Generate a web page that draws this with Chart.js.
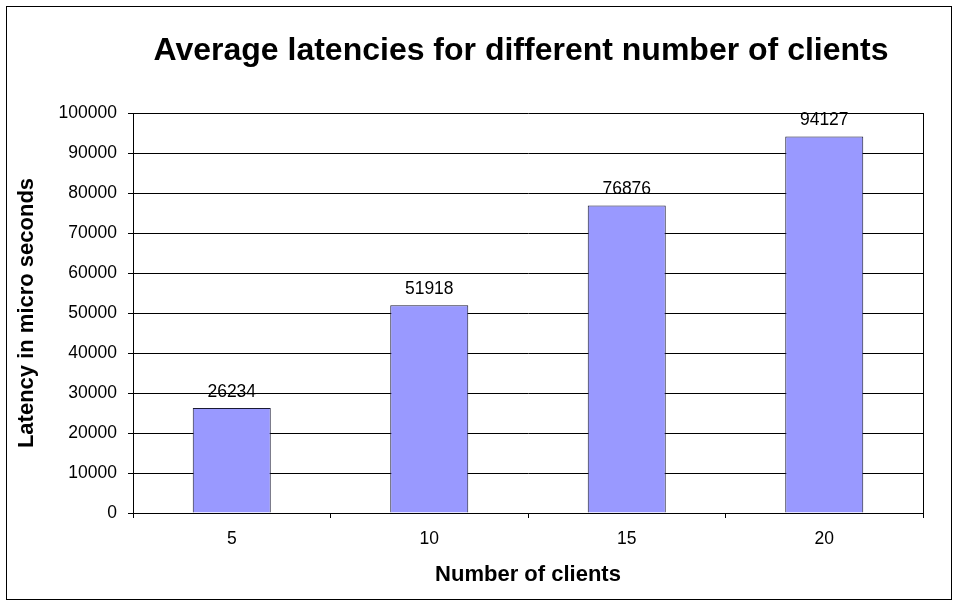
<!DOCTYPE html>
<html>
<head>
<meta charset="utf-8">
<script src="https://cdn.jsdelivr.net/npm/chart.js@4/dist/chart.umd.min.js"></script>
<style>
  body { margin: 0; background: #fff; }
  canvas { display: block; }
</style>
</head>
<body>
<canvas id="latency-chart" width="959" height="606"></canvas>
<script>
const clients = ['5', '10', '15', '20'];
const latencies = [26234, 51918, 76876, 94127];
const chartTitle = 'Average latencies for different number of clients';
const xTitle = 'Number of clients';
const yTitle = 'Latency in micro seconds';

const FONT = "Arial, 'Liberation Sans', sans-serif";

// outer frame + right edge of the plot area
const framePlugin = {
  id: 'frame',
  afterLayout(chart) {
    // title sits a little left of the plot centre in the original
    if (chart.titleBlock) {
      chart.titleBlock.left -= 7;
      chart.titleBlock.right -= 7;
    }
  },
  afterDraw(chart) {
    const ctx = chart.ctx;
    const a = chart.chartArea;
    ctx.save();
    ctx.strokeStyle = '#000';
    ctx.lineWidth = 1;
    ctx.strokeRect(6.5, 6.5, 945, 593);
    ctx.beginPath();
    ctx.moveTo(Math.round(a.right) + 0.5, a.top);
    ctx.lineTo(Math.round(a.right) + 0.5, a.bottom);
    ctx.stroke();
    ctx.restore();
  }
};

// numbers above each bar
const valueLabels = {
  id: 'valueLabels',
  afterDatasetsDraw(chart) {
    const ctx = chart.ctx;
    const meta = chart.getDatasetMeta(0);
    ctx.save();
    ctx.font = '17.5px ' + FONT;
    ctx.fillStyle = '#000';
    ctx.textAlign = 'center';
    ctx.textBaseline = 'alphabetic';
    meta.data.forEach((bar, i) => {
      ctx.fillText(String(chart.data.datasets[0].data[i]), bar.x, bar.y - 11);
    });
    ctx.restore();
  }
};

new Chart(document.getElementById('latency-chart'), {
  type: 'bar',
  data: {
    labels: clients,
    datasets: [{
      label: 'Latency',
      data: latencies,
      backgroundColor: '#9999ff',
      borderColor: '#1a1a33',
      borderWidth: 1,
      barPercentage: 0.79,
      categoryPercentage: 0.5,
    }],
  },
  options: {
    responsive: false,
    animation: false,
    layout: {
      padding: { left: 13, right: 36, top: 0, bottom: 13 },
    },
    plugins: {
      legend: { display: false },
      tooltip: { enabled: false },
      title: {
        display: true,
        fullSize: false,
        text: chartTitle,
        color: '#000',
        font: { family: FONT, size: 32, weight: 'bold' },
        padding: { top: 32, bottom: 42.6 },
      },
    },
    scales: {
      x: {
        afterFit(scale) { scale.height = 80; },
        grid: {
          offset: true,
          drawOnChartArea: false,
          drawTicks: true,
          tickLength: 5,
          color: '#000',
        },
        border: { color: '#000', width: 1 },
        ticks: {
          color: '#000',
          padding: 11,
          font: { family: FONT, size: 17.5 },
        },
        title: {
          display: true,
          text: xTitle,
          color: '#000',
          font: { family: FONT, size: 22, weight: 'bold' },
          padding: { top: 4, bottom: 5 },
        },
      },
      y: {
        min: 0,
        max: 100000,
        afterFit(scale) { scale.width = 120; },
        grid: {
          color: '#000',
          lineWidth: 1,
          tickLength: 5,
        },
        border: { color: '#000', width: 1 },
        ticks: {
          stepSize: 10000,
          color: '#000',
          padding: 11,
          font: { family: FONT, size: 17.5 },
          callback: (v) => String(v),
        },
        title: {
          display: true,
          text: yTitle,
          color: '#000',
          font: { family: FONT, size: 22, weight: 'bold' },
          padding: { top: 1, bottom: 4 },
        },
      },
    },
  },
  plugins: [framePlugin, valueLabels],
});
</script>
</body>
</html>
